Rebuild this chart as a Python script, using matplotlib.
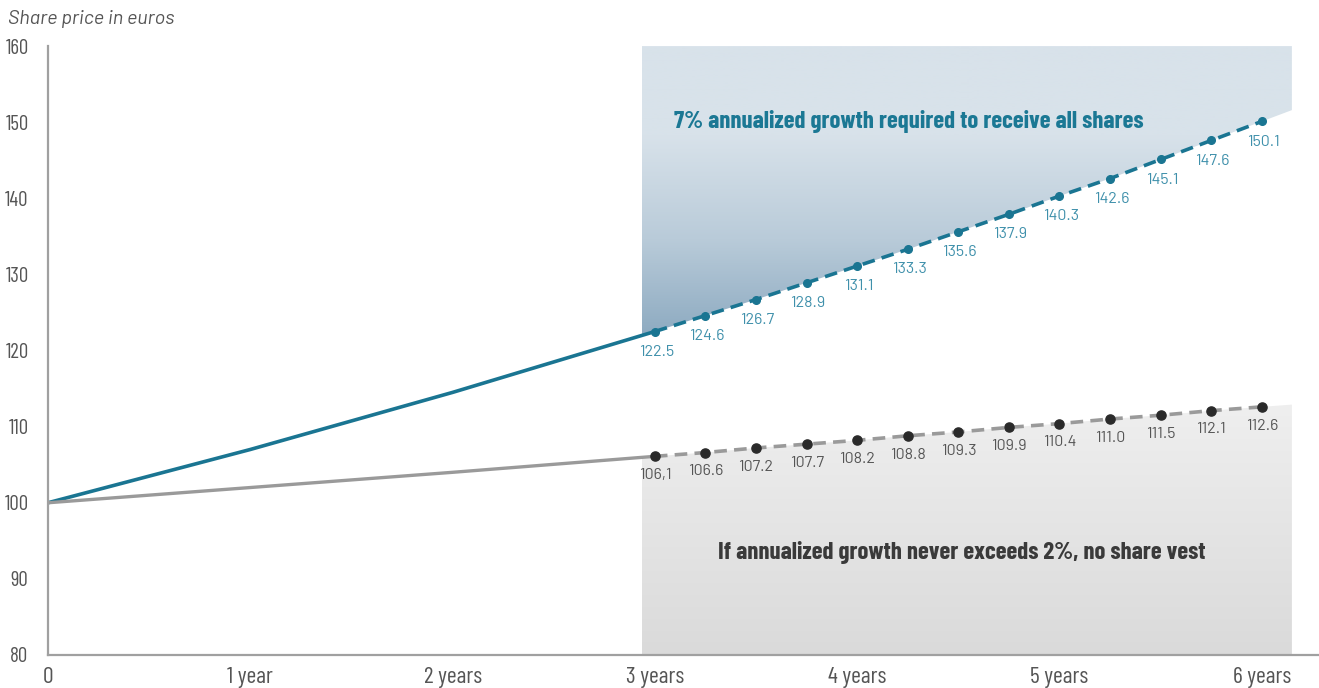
import numpy as np
import matplotlib
matplotlib.use("Agg")
import matplotlib.pyplot as plt
from matplotlib import font_manager as fm
from matplotlib.colors import LinearSegmentedColormap

# yearly path to the end of year 3, then quarterly observations to year 6
years = [0, 1, 2, 3]
quarters = [3.0, 3.25, 3.5, 3.75, 4.0, 4.25, 4.5, 4.75, 5.0, 5.25, 5.5, 5.75, 6.0]

target_path = [100, 107, 114.5, 122.5]
target_q = [122.5, 124.6, 126.7, 128.9, 131.1, 133.3, 135.6, 137.9, 140.3, 142.6, 145.1, 147.6, 150.1]
target_lbl = ["122.5", "124.6", "126.7", "128.9", "131.1", "133.3", "135.6",
              "137.9", "140.3", "142.6", "145.1", "147.6", "150.1"]

floor_path = [100, 102, 104, 106.1]
floor_q = [106.1, 106.6, 107.2, 107.7, 108.2, 108.8, 109.3, 109.9, 110.4, 111.0, 111.5, 112.1, 112.6]
floor_lbl = ["106,1", "106.6", "107.2", "107.7", "108.2", "108.8", "109.3",
             "109.9", "110.4", "111.0", "111.5", "112.1", "112.6"]

xtick_pos = [0, 1, 2, 3, 4, 5, 6]
xtick_lbl = ["0", "1 year", "2 years", "3 years", "4 years", "5 years", "6 years"]
ytick_pos = [80, 90, 100, 110, 120, 130, 140, 150, 160]

TEAL = "#1a7592"
TEAL_LBL = "#3f90ab"
GREY_LINE = "#9a9a9a"
DOT = "#2a2a2a"
TXT = "#555555"

avail = {f.name for f in fm.fontManager.ttflist}


def pick(*names):
    return [n for n in names if n in avail][:1] + ["DejaVu Sans"]


COND = pick("Barlow Condensed", "Roboto Condensed", "Archivo Narrow", "Liberation Sans Narrow")
PLAIN = pick("Barlow", "Roboto", "Open Sans")

fig = plt.figure(figsize=(13.19, 6.88), dpi=100)
ax = fig.add_axes([0.0364, 0.048, 0.9636, 0.885])
ax.set_xlim(0, 6.283)
ax.set_ylim(80, 160)


def band_edge(xs, path_x, path_y, q_x, q_y):
    # follow the line, extended a little past the last point
    px = np.array(path_x[:-1] + q_x, dtype=float)
    py = np.array(path_y[:-1] + q_y, dtype=float)
    ys = np.interp(xs, px, py)
    slope = (py[-1] - py[-2]) / (px[-1] - px[-2])
    over = xs > px[-1]
    ys[over] = py[-1] + slope * (xs[over] - px[-1])
    return ys


band_x = np.concatenate([[2.936], quarters, [6.149]])
grad = np.linspace(0, 1, 256).reshape(-1, 1)

# upper band: line up to the top of the chart, gradient fill
up_edge = band_edge(band_x, years, target_path, quarters, target_q)
poly_up = ax.fill_between(band_x, up_edge, 160, color="none", lw=0)
cm_up = LinearSegmentedColormap.from_list(
    "up", [(0.0, "#8aa8bf"), (0.35, "#b9cbd9"), (0.7, "#d8e2ea"), (1.0, "#d8e2ea")])
im = ax.imshow(grad, cmap=cm_up, origin="lower", aspect="auto",
               extent=[band_x[0], band_x[-1], 121, 160], zorder=1)
im.set_clip_path(poly_up.get_paths()[0], transform=ax.transData)

# lower band: floor line down to the axis, grey gradient
lo_edge = band_edge(band_x, years, floor_path, quarters, floor_q)
poly_lo = ax.fill_between(band_x, 80, lo_edge, color="none", lw=0)
cm_lo = LinearSegmentedColormap.from_list("lo", ["#dadada", "#efefef"])
im2 = ax.imshow(grad, cmap=cm_lo, origin="lower", aspect="auto",
                extent=[band_x[0], band_x[-1], 80, 113], zorder=1)
im2.set_clip_path(poly_lo.get_paths()[0], transform=ax.transData)

# solid history + dashed quarterly path
ax.plot(years, target_path, color=TEAL, lw=2.6, zorder=3, solid_capstyle="round")
ax.plot(quarters, target_q, color=TEAL, lw=2.6, ls=(0, (3.5, 2)), zorder=3)
ax.plot(quarters, target_q, "o", color=TEAL, ms=5.5, zorder=4)

ax.plot(years, floor_path, color=GREY_LINE, lw=2.4, zorder=3)
ax.plot(quarters, floor_q, color=GREY_LINE, lw=2.6, ls=(0, (3.5, 2)), zorder=3)
ax.plot(quarters, floor_q, "o", color=DOT, ms=6.6, zorder=4)

for x, y, s in zip(quarters, target_q, target_lbl):
    ax.annotate(s, (x, y), xytext=(1, -14.5), textcoords="offset points",
                ha="center", va="center", fontsize=11.5, color=TEAL_LBL,
                family=PLAIN, zorder=5)
for x, y, s in zip(quarters, floor_q, floor_lbl):
    ax.annotate(s, (x, y), xytext=(0, -13.5), textcoords="offset points",
                ha="center", va="center", fontsize=11.5, color=TXT,
                family=PLAIN, zorder=5)

ax.text(4.256, 150.1, "7% annualized growth required to receive all shares",
        ha="center", va="center", fontsize=17.8, fontweight="bold",
        color="#1b7894", family=COND, zorder=5)
ax.text(4.518, 93.5, "If annualized growth never exceeds 2%, no share vest",
        ha="center", va="center", fontsize=17.8, fontweight="bold",
        color="#3a3a3a", family=COND, zorder=5)

for side in ("top", "right"):
    ax.spines[side].set_visible(False)
for side in ("left", "bottom"):
    ax.spines[side].set_color("#a0a0a0")
    ax.spines[side].set_linewidth(1.6)
    ax.spines[side].set_zorder(6)

ax.set_xticks(xtick_pos)
ax.set_xticklabels(xtick_lbl)
ax.set_yticks(ytick_pos)
ax.tick_params(length=0, colors=TXT)
ax.tick_params(axis="x", pad=9, labelsize=17)
ax.tick_params(axis="y", pad=14, labelsize=15)
for t in ax.get_xticklabels() + ax.get_yticklabels():
    t.set_family(COND)
    t.set_color(TXT)

fig.text(0.006, 0.973, "Share price in euros", ha="left", va="center",
         fontsize=14.3, style="italic", color=TXT, family=PLAIN)

fig.savefig("out.png", dpi=100)
